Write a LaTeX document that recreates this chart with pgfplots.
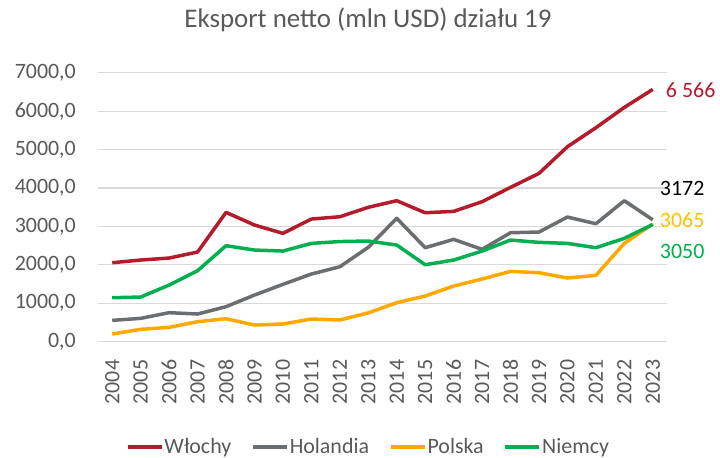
\documentclass[border=0pt]{standalone}
\usepackage{pgfplots}
\pgfplotsset{compat=1.18}
\usepackage{fontspec}
\setmainfont{Carlito}
\definecolor{cred}{HTML}{B41B2B}
\definecolor{cgray}{HTML}{6B6E70}
\definecolor{corange}{HTML}{FFA800}
\definecolor{cgreen}{HTML}{00B050}
\definecolor{clabor}{HTML}{FFC000}
\definecolor{textgray}{HTML}{595959}
\definecolor{gridgray}{HTML}{D9D9D9}
\begin{document}
\begin{tikzpicture}
\path[use as bounding box] (0,0) rectangle (720bp,458bp);
\node[text=textgray, font=\fontsize{27}{32}\selectfont] at (368bp,438bp) {Eksport netto (mln USD) działu 19};
\begin{axis}[
  at={(98bp,116.3bp)}, anchor=south west,
  scale only axis, width=569bp, height=269bp,
  xmin=-0.5, xmax=19.5, ymin=0, ymax=7000,
  axis line style={draw=none},
  tick style={draw=none},
  ytick={0,1000,...,7000},
  ymajorgrids, grid style={gridgray, line width=1.2bp},
  xtick={0,...,19},
  xticklabels={2004,2005,2006,2007,2008,2009,2010,2011,2012,2013,2014,2015,2016,2017,2018,2019,2020,2021,2022,2023},
  xticklabel style={rotate=90, anchor=east, inner sep=0pt, text=textgray, font=\fontsize{22}{26}\selectfont},
  xticklabel shift=18bp,
  yticklabel style={anchor=east, inner sep=0pt, text=textgray, font=\fontsize{22}{26}\selectfont,
    /pgf/number format/.cd, fixed, fixed zerofill, precision=1, use comma, 1000 sep={}, assume math mode=true},
  yticklabel shift=22bp,
  legend columns=4,
  legend image code/.code={\draw[#1, line width=3.5bp] (0bp,0bp) -- (34bp,0bp);},
  legend style={at={(0.4745,-0.3914)}, anchor=center, draw=none, fill=none, inner sep=0pt,
    nodes={inner sep=1bp, text=textgray, font=\fontsize{22}{26}\selectfont},
    /tikz/every even column/.append style={column sep=19bp}},
  every axis plot/.append style={line width=3.5bp, line join=round},
  clip=false,
]
\addplot[cred, mark=none] coordinates {(0,2055)(1,2125)(2,2177)(3,2333)(4,3365)(5,3036)(6,2819)(7,3192)(8,3252)(9,3497)(10,3669)(11,3356)(12,3391)(13,3643)(14,4016)(15,4380)(16,5074)(17,5568)(18,6097)(19,6566)};
\addlegendentry{Włochy}
\addplot[cgray, mark=none] coordinates {(0,555)(1,607)(2,755)(3,720)(4,911)(5,1214)(6,1492)(7,1761)(8,1951)(9,2456)(10,3211)(11,2446)(12,2663)(13,2403)(14,2836)(15,2854)(16,3244)(17,3070)(18,3669)(19,3172)};
\addlegendentry{Holandia}
\addplot[corange, mark=none] coordinates {(0,200)(1,321)(2,373)(3,520)(4,598)(5,434)(6,460)(7,590)(8,564)(9,750)(10,1015)(11,1188)(12,1448)(13,1631)(14,1830)(15,1795)(16,1657)(17,1726)(18,2559)(19,3065)};
\addlegendentry{Polska}
\addplot[cgreen, mark=none] coordinates {(0,1145)(1,1162)(2,1474)(3,1847)(4,2498)(5,2385)(6,2359)(7,2559)(8,2606)(9,2620)(10,2515)(11,2003)(12,2125)(13,2359)(14,2645)(15,2585)(16,2559)(17,2446)(18,2689)(19,3050)};
\addlegendentry{Niemcy}
\node[anchor=west, text=cred, font=\fontsize{22}{26}\selectfont, inner sep=0pt] at (axis cs:19,6566) [xshift=13bp, yshift=-1bp] {6 566};
\node[anchor=west, text=black, font=\fontsize{22}{26}\selectfont, inner sep=0pt] at (axis cs:19,3172) [xshift=7bp, yshift=31bp] {3172};
\node[anchor=west, text=clabor, font=\fontsize{22}{26}\selectfont, inner sep=0pt] at (axis cs:19,3065) [xshift=7bp, yshift=4bp] {3065};
\node[anchor=west, text=cgreen, font=\fontsize{22}{26}\selectfont, inner sep=0pt] at (axis cs:19,3050) [xshift=7bp, yshift=-27bp] {3050};
\end{axis}
\end{tikzpicture}
\end{document}
